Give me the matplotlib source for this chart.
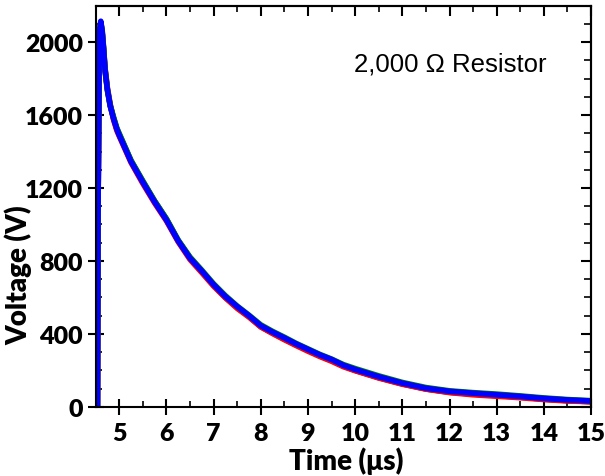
import matplotlib
matplotlib.use("Agg")
import matplotlib.pyplot as plt
from matplotlib.ticker import MultipleLocator

# Time (microseconds)
time_us = [4.50, 4.54, 4.55, 4.58, 4.61, 4.64, 4.67, 4.70, 4.75, 4.81, 4.88, 4.95,
           5.00, 5.25, 5.50, 5.75, 6.00, 6.25, 6.50, 6.75, 7.00, 7.25, 7.50, 7.75,
           8.00, 8.25, 8.50, 8.75, 9.00, 9.25, 9.50, 9.75, 10.0, 10.5, 11.0, 11.5,
           12.0, 12.5, 13.0, 13.5, 14.0, 14.5, 15.0]

v_black = [0, 0, 1000, 2040, 2105, 2050, 1950, 1845, 1735, 1650, 1585, 1525,
           1495, 1350, 1236, 1128, 1030, 912, 818, 742, 668, 600, 545, 496,
           440, 405, 372, 340, 310, 280, 254, 224, 200, 160, 126, 98,
           80, 70, 62, 53, 42, 34, 28]
v_red = [0, 0, 1000, 2045, 2110, 2055, 1965, 1860, 1750, 1660, 1575, 1515,
         1485, 1340, 1225, 1118, 1020, 905, 808, 736, 662, 598, 540, 492,
         438, 402, 368, 336, 305, 276, 250, 220, 198, 158, 124, 97,
         78, 66, 58, 50, 40, 32, 28]
v_green = [0, 0, 1000, 2045, 2110, 2065, 1970, 1855, 1745, 1655, 1590, 1530,
           1500, 1352, 1240, 1130, 1032, 915, 822, 750, 675, 610, 553, 503,
           450, 414, 382, 348, 318, 288, 262, 232, 210, 170, 134, 106,
           88, 78, 70, 60, 49, 40, 34]
v_blue = [0, 0, 1000, 2050, 2115, 2060, 1960, 1850, 1740, 1650, 1580, 1523,
          1490, 1345, 1232, 1124, 1025, 910, 815, 745, 670, 605, 550, 500,
          445, 410, 378, 345, 315, 285, 260, 228, 205, 165, 130, 102,
          85, 75, 66, 57, 46, 38, 32]

x_ticks = [5, 6, 7, 8, 9, 10, 11, 12, 13, 14, 15]
y_ticks = [0, 400, 800, 1200, 1600, 2000]

series = [(v_black, "black"), (v_red, "red"), (v_green, "green"), (v_blue, "blue")]

fig = plt.figure(figsize=(6.05, 4.77), dpi=100)
ax = fig.add_axes([0.158, 0.145, 0.819, 0.841])

for vals, col in series:
    ax.plot(time_us, vals, color=col, lw=4.0, solid_joinstyle="round")

ax.set_xlim(4.5, 15)
ax.set_ylim(0, 2200)
ax.xaxis.set_minor_locator(MultipleLocator(0.5))
ax.yaxis.set_minor_locator(MultipleLocator(100))

tick_font = dict(family="Lato", weight="heavy", size=18)
ax.set_xticks(x_ticks)
ax.set_xticklabels([str(v) for v in x_ticks], **tick_font)
ax.set_yticks(y_ticks)
ax.set_yticklabels([str(v) for v in y_ticks], **tick_font)

for s in ax.spines.values():
    s.set_linewidth(1.5)
ax.tick_params(which="major", direction="inout", length=12, width=1.5)
ax.tick_params(axis="x", which="major", pad=5)
ax.tick_params(axis="y", which="major", pad=3)
ax.tick_params(which="minor", direction="in", length=4, width=1.2)

secx = ax.secondary_xaxis("top")
secx.xaxis.set_major_locator(MultipleLocator(1))
secx.xaxis.set_minor_locator(MultipleLocator(0.5))
secx.tick_params(which="major", direction="in", length=7, width=1.5, labeltop=False)
secx.tick_params(which="minor", direction="in", length=4, width=1.2)
secx.spines["top"].set_linewidth(1.5)

secy = ax.secondary_yaxis("right")
secy.yaxis.set_major_locator(MultipleLocator(400))
secy.yaxis.set_minor_locator(MultipleLocator(100))
secy.tick_params(which="major", direction="in", length=7, width=1.5, labelright=False)
secy.tick_params(which="minor", direction="in", length=5, width=1.2)
secy.spines["right"].set_linewidth(1.5)

ax.set_xlabel("Time (\u03bcs)", family="Lato", weight="heavy", size=20)
ax.set_ylabel("Voltage (V)", family="Lato", weight="heavy", size=20)
ax.xaxis.set_label_coords(0.505, -0.098)
ax.yaxis.set_label_coords(-0.128, 0.33)

ax.text(0.715, 0.857, "2,000 \u03a9 Resistor", transform=ax.transAxes,
        family="Liberation Sans", size=18.5, ha="center", va="center")

fig.savefig("out.png", dpi=100)
